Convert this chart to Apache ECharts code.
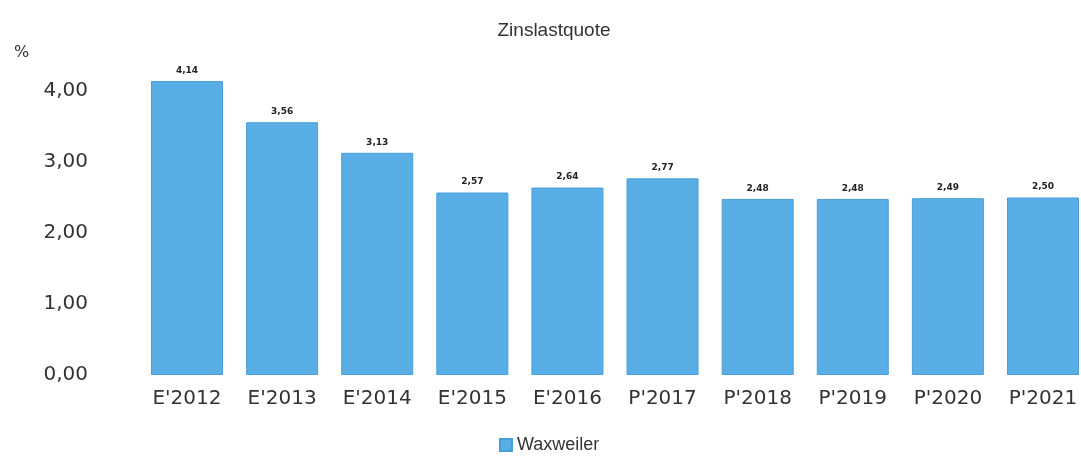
<!DOCTYPE html>
<html>
<head>
<meta charset="utf-8">
<script src="https://cdn.jsdelivr.net/npm/echarts@6/dist/echarts.min.js"></script>
<style>
  html, body { margin: 0; padding: 0; background: #fff; }
  #chart { width: 1081px; height: 461px; }
</style>
</head>
<body>
<div id="chart"></div>
<script>
// Zinslastquote Waxweiler, E = Ergebnis, P = Plan
const years = ["E'2012", "E'2013", "E'2014", "E'2015", "E'2016", "P'2017", "P'2018", "P'2019", "P'2020", "P'2021"];
const quote = [4.14, 3.56, 3.13, 2.57, 2.64, 2.77, 2.48, 2.48, 2.49, 2.50];
const yTicks = [0, 1, 2, 3, 4];

const fmt = v => v.toFixed(2).replace('.', ',');

const chart = echarts.init(document.getElementById('chart'));

const option = {
  animation: false,
  title: [
    {
      text: 'Zinslastquote',
      left: 549,
      top: 16,
      textAlign: 'center',
      textStyle: { fontFamily: 'Liberation Sans', fontSize: 19, fontWeight: 'normal', color: '#333' }
    },
    {
      text: '%',
      left: 9,
      top: 40,
      textStyle: { fontFamily: 'DejaVu Sans', fontSize: 16, fontWeight: 'normal', color: '#333' }
    }
  ],
  legend: {
    data: ['Waxweiler'],
    left: 494,
    bottom: 2,
    itemWidth: 12,
    itemHeight: 12,
    itemGap: 4,
    icon: 'rect',
    textStyle: { fontFamily: 'Liberation Sans', fontSize: 18, color: '#333' }
  },
  grid: {
    left: 187,
    right: 38,
    top: 55.5,
    bottom: 86
  },
  xAxis: {
    type: 'category',
    data: years,
    boundaryGap: false,
    axisLine: { show: false },
    axisTick: { show: false },
    axisLabel: {
      margin: 14,
      fontFamily: 'DejaVu Sans',
      fontSize: 20,
      color: '#333'
    }
  },
  yAxis: {
    type: 'value',
    min: 0,
    max: 4.5,
    interval: 1,
    splitLine: { show: false },
    axisLine: { show: false },
    axisTick: { show: false },
    axisLabel: {
      margin: 99,
      fontFamily: 'DejaVu Sans',
      fontSize: 20,
      color: '#333',
      formatter: v => (yTicks.includes(v) ? fmt(v) : '')
    }
  },
  series: [{
    name: 'Waxweiler',
    type: 'bar',
    data: quote,
    barWidth: 72,
    itemStyle: {
      color: '#5aaee6',
      borderColor: '#4a9ed8',
      borderWidth: 1
    },
    label: {
      show: true,
      position: 'top',
      distance: 6,
      formatter: p => fmt(p.value),
      fontFamily: 'DejaVu Sans',
      fontSize: 9,
      fontWeight: 'bold',
      color: '#222'
    }
  }]
};

chart.setOption(option);
</script>
</body>
</html>
